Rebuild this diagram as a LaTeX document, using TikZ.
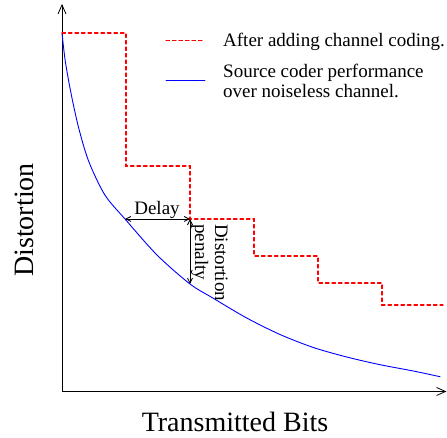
\documentclass[tikz,border=0pt]{standalone}
\usepackage{fontspec}
\setmainfont{Liberation Serif}
\usetikzlibrary{arrows.meta}
\definecolor{codedred}{RGB}{255,0,0}
\tikzset{
  axis/.style={black, line width=0.8pt, -{Straight Barb[length=9pt,width=8pt,line width=0.8pt]}},
  coded/.style={codedred, line width=1.1pt, line cap=round, dash pattern=on 3.5pt off 3pt},
  source/.style={blue, line width=0.9pt, line cap=round},
  dim/.style={black, line width=0.8pt, {Straight Barb[length=5pt,width=5pt]}-{Straight Barb[length=5pt,width=5pt]}},
  bigtxt/.style={font=\fontsize{28}{30}\selectfont, inner sep=0pt},
  smalltxt/.style={font=\fontsize{19}{20}\selectfont, inner sep=0pt},
}
\begin{document}
\begin{tikzpicture}[x=1pt,y=1pt]
\useasboundingbox (0,0) rectangle (447,438);
% axes
\coordinate (o) at (62,46.5);
\coordinate (ytop) at (62,434);
\coordinate (xend) at (446.5,46.5);
\draw[axis] (o) -- (ytop);
\draw[axis] (o) -- (xend);
\node[bigtxt, anchor=base] (xl) at (235,6) {Transmitted Bits};
\node[bigtxt, anchor=base, rotate=90] (yl) at (33,218) {Distortion};
% source curve
\draw[source] plot[smooth, tension=0.5] coordinates {(62,405) (65.3,376.7) (71.3,343.3) (78.7,310) (88.7,276.7) (104.7,243.3) (125,219) (157,183) (190,154) (213.3,139.7) (246.7,120) (280,103.5) (313.3,90.5) (346.7,81) (380,73.3) (413.3,67) (440,61.3)};
% channel coded steps
\coordinate (s0) at (62,405);
\coordinate (s1) at (126,405);
\coordinate (s2) at (126,272);
\coordinate (s3) at (190,272);
\coordinate (s4) at (190,219);
\coordinate (s5) at (254,219);
\coordinate (s6) at (254,182);
\coordinate (s7) at (318,182);
\coordinate (s8) at (318,155);
\coordinate (s9) at (382,155);
\coordinate (s10) at (382,133);
\coordinate (s11) at (443,133);
\draw[coded] (s0) -- (s1) -- (s2) -- (s3) -- (s4) -- (s5) -- (s6) -- (s7) -- (s8) -- (s9) -- (s10) -- (s11);
% delay and penalty
\coordinate (c1) at (125,219);
\coordinate (c2) at (190,154);
\draw[dim] (c1) -- (s4);
\draw[dim] (s4) -- (c2);
\node[smalltxt, anchor=base] (delay) at (157,223) {Delay};
\node[smalltxt, rotate=-90, anchor=north west, align=left] (pen) at (228,214) {Distortion\\penalty};
% legend
\coordinate (l1a) at (166,397.3);
\coordinate (l1b) at (205,397.3);
\coordinate (l2a) at (166,357.3);
\coordinate (l2b) at (205,357.3);
\draw[coded] (l1a) -- (l1b);
\draw[source] (l2a) -- (l2b);
\node[smalltxt, anchor=base west] (t1) at (223,391.3) {After adding channel coding.};
\node[smalltxt, anchor=base west] (t2) at (223,360.7) {Source coder performance};
\node[smalltxt, anchor=base west] (t3) at (223,340.7) {over noiseless channel.};
\end{tikzpicture}
\end{document}
